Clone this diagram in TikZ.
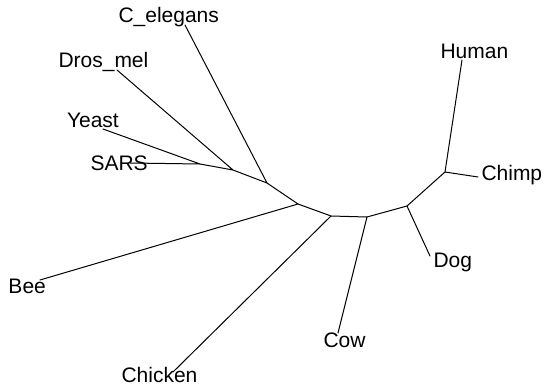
\documentclass[tikz,border=0pt]{standalone}
\usepackage{fontspec}
\setmainfont{Liberation Sans}
\begin{document}
\begin{tikzpicture}[x=1pt,y=-1pt,
  branch/.style={draw=black,line width=1pt,line cap=round,line join=round},
  leaflabel/.style={anchor=base west,inner sep=0pt,outer sep=0pt,font=\fontsize{21}{25}\selectfont}]
\useasboundingbox (0,0) rectangle (544,388);
% internal nodes
\coordinate (n1) at (200,164);
\coordinate (n2) at (233,170);
\coordinate (n3) at (267,183);
\coordinate (n4) at (298,204);
\coordinate (n5) at (331,216);
\coordinate (n6) at (367,217);
\coordinate (n7) at (407,206);
\coordinate (n8) at (445,172);
% tips
\coordinate (tC) at (185,25);
\coordinate (tD) at (117,70);
\coordinate (tY) at (103,129);
\coordinate (tS) at (130,163);
\coordinate (tH) at (462,60);
\coordinate (tCh) at (478,177);
\coordinate (tDo) at (430,256);
\coordinate (tCo) at (338,333);
\coordinate (tCk) at (173,372);
\coordinate (tB) at (40,280);
% labels
\node[leaflabel] (lC) at (118.5,23) {C\_elegans};
\node[leaflabel] (lD) at (58.5,67) {Dros\_mel};
\node[leaflabel] (lY) at (67,127) {Yeast};
\node[leaflabel] (lS) at (90.5,170) {SARS};
\node[leaflabel] (lH) at (440.5,58.5) {Human};
\node[leaflabel] (lCh) at (481.5,180) {Chimp};
\node[leaflabel] (lDo) at (433.5,267) {Dog};
\node[leaflabel] (lCo) at (323.5,347) {Cow};
\node[leaflabel] (lCk) at (121.5,382) {Chicken};
\node[leaflabel] (lB) at (8.5,293) {Bee};
% branches
\path[branch] (tY) -- (n1) (tS) -- (n1);
\path[branch] (n1) -- (n2) (tD) -- (n2);
\path[branch] (n2) -- (n3) (tC) -- (n3);
\path[branch] (n3) -- (n4) (tB) -- (n4);
\path[branch] (n4) -- (n5) (tCk) -- (n5);
\path[branch] (n5) -- (n6) (tCo) -- (n6);
\path[branch] (n6) -- (n7) (tDo) -- (n7);
\path[branch] (n7) -- (n8);
\path[branch] (tH) -- (n8) (tCh) -- (n8);
\end{tikzpicture}
\end{document}
